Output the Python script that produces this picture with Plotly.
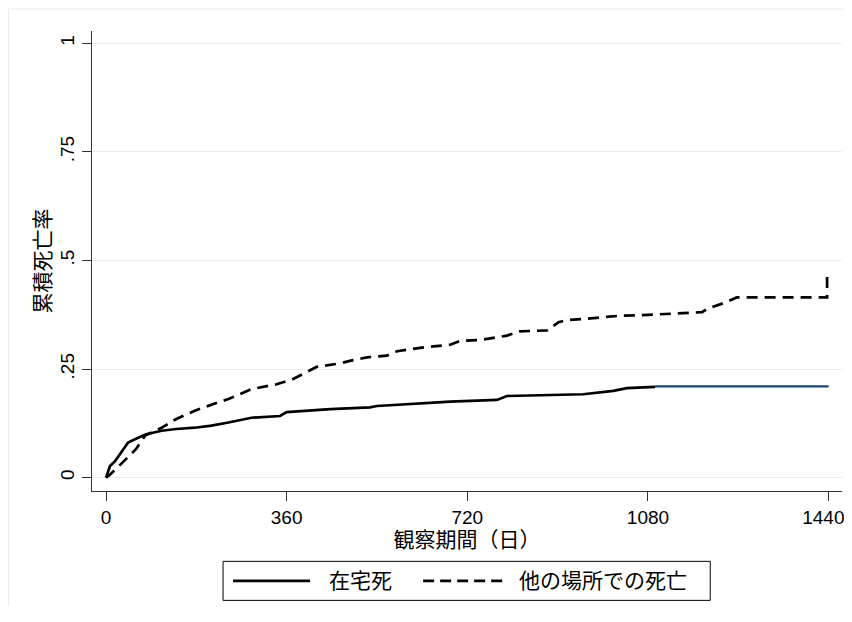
import plotly.graph_objects as go

# ---- data ----
days_home = [0, 3, 8, 18, 28, 44, 64, 80, 111, 140, 177, 210, 244, 290, 347, 360,
             447, 526, 540, 600, 686, 779, 799, 951, 1011, 1038, 1094]
cif_home = [0, 0.010, 0.027, 0.038, 0.055, 0.081, 0.092, 0.100, 0.108, 0.112, 0.115,
            0.120, 0.127, 0.138, 0.142, 0.151, 0.158, 0.162, 0.165, 0.169, 0.175,
            0.179, 0.188, 0.192, 0.200, 0.206, 0.209]

days_home_tail = [1094, 1440]
cif_home_tail = [0.210, 0.210]

days_other = [0, 5, 20, 38, 60, 78, 111, 140, 177, 210, 244, 290, 340, 373, 403, 420,
              466, 486, 520, 560, 580, 633, 686, 706, 746, 799, 825, 879, 902, 918,
              958, 1025, 1065, 1188, 1198, 1231, 1257, 1437, 1437]
cif_other = [0, 0.004, 0.020, 0.040, 0.066, 0.097, 0.115, 0.135, 0.154, 0.168, 0.181,
             0.204, 0.215, 0.227, 0.246, 0.255, 0.263, 0.269, 0.277, 0.281, 0.291,
             0.300, 0.306, 0.315, 0.317, 0.327, 0.337, 0.339, 0.358, 0.363, 0.366,
             0.373, 0.374, 0.381, 0.389, 0.402, 0.415, 0.415, 0.467]

x_ticks = [0, 360, 720, 1080, 1440]
# trailing no-break spaces keep the last label inside the visible page
x_ticktext = ["0", "360", "720", "1080", "1440\u00a0\u00a0"]
y_ticks = [0, 0.25, 0.5, 0.75, 1]
y_ticktext = ["0", ".25", ".5", ".75", "1"]

name_home = "在宅死"
name_other = "他の場所での死亡"
x_title = "観察期間（日）"
y_title = "累積死亡率"

FONT = "Liberation Sans, Arial, Noto Sans CJK JP, sans-serif"
AX = "#333333"
TICK_SIZE = 19
CJK_SIZE = 21

fig = go.Figure()
fig.add_trace(go.Scatter(x=days_home, y=cif_home, mode="lines", name=name_home,
                         line=dict(color="black", width=2.7), showlegend=False))
fig.add_trace(go.Scatter(x=days_home_tail, y=cif_home_tail, mode="lines", name=name_home,
                         line=dict(color="#1a476f", width=2.2), showlegend=False))
fig.add_trace(go.Scatter(x=days_other, y=cif_other, mode="lines", name=name_other,
                         line=dict(color="black", width=2.7, dash="11px,7px"),
                         showlegend=False))

# page body has an 8px margin; keep the figure well inside the window (no scrollbar)
OFF = 8
W, H = 852 - OFF, 598
L, T = 92 - OFF, 31 - OFF
R = W - (841.7 - OFF)
B = H - (490.7 - OFF)
pw, ph = W - L - R, H - T - B


def px(x):  # screen x -> paper
    return (x - 92) / pw


def py(y):  # screen y -> paper
    return (490.7 - y) / ph


shapes = [
    # outer light frame
    dict(type="line", xref="paper", yref="paper", x0=px(8.5), x1=px(900), y0=py(9), y1=py(9),
         line=dict(color="#e3ecef", width=1)),
    dict(type="line", xref="paper", yref="paper", x0=px(8.5), x1=px(8.5), y0=py(9), y1=py(700),
         line=dict(color="#e3ecef", width=1)),
    # legend box
    dict(type="rect", xref="paper", yref="paper", x0=px(223), x1=px(710), y0=py(561), y1=py(600),
         line=dict(color="black", width=1), fillcolor="white"),
    # legend samples
    dict(type="line", xref="paper", yref="paper", x0=px(233), x1=px(310), y0=py(580.5), y1=py(580.5),
         line=dict(color="black", width=2.7)),
    dict(type="line", xref="paper", yref="paper", x0=px(423), x1=px(502), y0=py(580.5), y1=py(580.5),
         line=dict(color="black", width=2.7, dash="11px,6px")),
]

annotations = [
    dict(xref="paper", yref="paper", x=px(327), y=py(580.5), text=name_home, showarrow=False,
         xanchor="left", yanchor="middle", font=dict(size=CJK_SIZE, color="black", family=FONT)),
    dict(xref="paper", yref="paper", x=px(517), y=py(580.5), text=name_other, showarrow=False,
         xanchor="left", yanchor="middle", font=dict(size=CJK_SIZE, color="black", family=FONT)),
]

fig.update_layout(
    width=W, height=H,
    margin=dict(l=L, r=R, t=T, b=B, pad=0),
    paper_bgcolor="white", plot_bgcolor="white",
    font=dict(family=FONT, size=TICK_SIZE, color="black"),
    showlegend=False,
    shapes=shapes,
    annotations=annotations,
    xaxis=dict(range=[-27.9, 1466.7], tickvals=x_ticks, ticktext=x_ticktext,
               ticks="outside", ticklen=9,
               tickcolor=AX, tickwidth=1, showline=True, linecolor=AX, linewidth=1,
               showgrid=False, zeroline=False, tickfont=dict(size=TICK_SIZE),
               automargin=False, ticklabeloverflow="allow",
               title=dict(text=x_title, font=dict(size=CJK_SIZE), standoff=0)),
    yaxis=dict(range=[-0.0307, 1.0284], tickvals=y_ticks, ticktext=y_ticktext,
               tickangle=-90, ticks="outside", ticklen=9, tickcolor=AX, tickwidth=1,
               showline=True, linecolor=AX, linewidth=1, showgrid=True,
               gridcolor="#e6eef1", gridwidth=1, zeroline=False,
               tickfont=dict(size=TICK_SIZE), automargin=False,
               title=dict(text=y_title, font=dict(size=CJK_SIZE), standoff=1)),
)

fig.write_html("out.html")
